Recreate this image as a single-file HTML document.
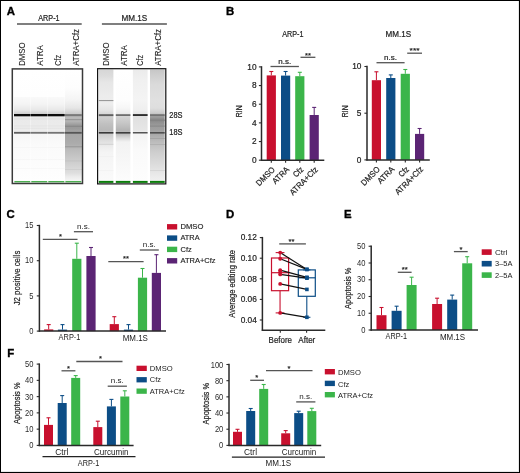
<!DOCTYPE html>
<html><head><meta charset="utf-8"><style>html,body{margin:0;padding:0;background:#fff;width:520px;height:473px;overflow:hidden}svg{display:block;will-change:transform}text{font-family:"Liberation Sans",sans-serif}</style></head><body>
<svg width="520" height="473" viewBox="0 0 520 473" font-family="Liberation Sans, sans-serif">
<rect x="0" y="0" width="520" height="473" fill="#fff"/>
<rect x="0" y="0" width="520" height="1" fill="#000"/><rect x="0" y="472" width="520" height="1" fill="#000"/><rect x="0" y="0" width="1" height="473" fill="#000"/><rect x="519" y="0" width="1" height="473" fill="#000"/>
<rect x="518" y="1" width="1" height="471" fill="#e8e8e8"/><rect x="1" y="471" width="518" height="1" fill="#e8e8e8"/>
<text x="6.7" y="15.1" font-size="11.4" font-weight="bold" fill="#000" stroke="#000" stroke-width="0.35">A</text>
<text x="225.9" y="15.3" font-size="11.4" font-weight="bold" fill="#000" stroke="#000" stroke-width="0.35">B</text>
<text x="6.5" y="217.7" font-size="11.4" font-weight="bold" fill="#000" stroke="#000" stroke-width="0.35">C</text>
<text x="225.9" y="217.6" font-size="11.4" font-weight="bold" fill="#000" stroke="#000" stroke-width="0.35">D</text>
<text x="343.9" y="217.6" font-size="11.4" font-weight="bold" fill="#000" stroke="#000" stroke-width="0.35">E</text>
<text x="7.3" y="356.5" font-size="11.4" font-weight="bold" fill="#000" stroke="#000" stroke-width="0.35">F</text>
<text x="38.3" y="21.2" font-size="8.3" textLength="21.3" lengthAdjust="spacingAndGlyphs" fill="#222" stroke="#222" stroke-width="0.2">ARP-1</text>
<text x="121.5" y="21.2" font-size="8.3" textLength="25.8" lengthAdjust="spacingAndGlyphs" fill="#222" stroke="#222" stroke-width="0.2">MM.1S</text>
<line x1="17" y1="24" x2="81.7" y2="24" stroke="#555" stroke-width="1.5"/>
<line x1="101.9" y1="24" x2="166.9" y2="24" stroke="#555" stroke-width="1.5"/>
<text x="25.4" y="65.8" font-size="8.4" fill="#222" stroke="#222" stroke-width="0.1" transform="rotate(-90 25.4 65.8)" textLength="23.4" lengthAdjust="spacingAndGlyphs">DMSO</text>
<text x="42.8" y="65.8" font-size="8.4" fill="#222" stroke="#222" stroke-width="0.1" transform="rotate(-90 42.8 65.8)" textLength="20.6" lengthAdjust="spacingAndGlyphs">ATRA</text>
<text x="60.9" y="65.8" font-size="8.4" fill="#222" stroke="#222" stroke-width="0.1" transform="rotate(-90 60.9 65.8)" textLength="10.8" lengthAdjust="spacingAndGlyphs">Cfz</text>
<text x="78.7" y="65.8" font-size="8.4" fill="#222" stroke="#222" stroke-width="0.1" transform="rotate(-90 78.7 65.8)" textLength="36.8" lengthAdjust="spacingAndGlyphs">ATRA+Cfz</text>
<text x="109.3" y="65.8" font-size="8.4" fill="#222" stroke="#222" stroke-width="0.1" transform="rotate(-90 109.3 65.8)" textLength="23.4" lengthAdjust="spacingAndGlyphs">DMSO</text>
<text x="126.6" y="65.8" font-size="8.4" fill="#222" stroke="#222" stroke-width="0.1" transform="rotate(-90 126.6 65.8)" textLength="20.6" lengthAdjust="spacingAndGlyphs">ATRA</text>
<text x="143.0" y="65.8" font-size="8.4" fill="#222" stroke="#222" stroke-width="0.1" transform="rotate(-90 143.0 65.8)" textLength="10.8" lengthAdjust="spacingAndGlyphs">Cfz</text>
<text x="161.3" y="65.8" font-size="8.4" fill="#222" stroke="#222" stroke-width="0.1" transform="rotate(-90 161.3 65.8)" textLength="36.8" lengthAdjust="spacingAndGlyphs">ATRA+Cfz</text>
<defs><linearGradient id="g1" gradientUnits="userSpaceOnUse" x1="0" y1="69.5" x2="0" y2="181"><stop offset="0.0000" stop-color="#ffffff"/><stop offset="0.2422" stop-color="#fefefe"/><stop offset="0.2466" stop-color="#f9f9f9"/><stop offset="0.3094" stop-color="#f4f4f4"/><stop offset="0.3632" stop-color="#e8e8e8"/><stop offset="0.3955" stop-color="#d0d0d0"/><stop offset="0.4215" stop-color="#eaeaea"/><stop offset="0.5516" stop-color="#ececec"/><stop offset="0.5785" stop-color="#f6f6f6"/><stop offset="0.6771" stop-color="#fafafa"/><stop offset="1.0000" stop-color="#fefefe"/></linearGradient><linearGradient id="g2" gradientUnits="userSpaceOnUse" x1="0" y1="69.5" x2="0" y2="181"><stop offset="0.0000" stop-color="#ffffff"/><stop offset="0.2422" stop-color="#fefefe"/><stop offset="0.2466" stop-color="#f9f9f9"/><stop offset="0.3094" stop-color="#f4f4f4"/><stop offset="0.3632" stop-color="#e8e8e8"/><stop offset="0.3955" stop-color="#d0d0d0"/><stop offset="0.4215" stop-color="#eaeaea"/><stop offset="0.5516" stop-color="#ececec"/><stop offset="0.5785" stop-color="#f6f6f6"/><stop offset="0.6771" stop-color="#fafafa"/><stop offset="1.0000" stop-color="#fefefe"/></linearGradient><linearGradient id="g3" gradientUnits="userSpaceOnUse" x1="0" y1="69.5" x2="0" y2="181"><stop offset="0.0000" stop-color="#ffffff"/><stop offset="0.2422" stop-color="#fefefe"/><stop offset="0.2466" stop-color="#f9f9f9"/><stop offset="0.3094" stop-color="#f4f4f4"/><stop offset="0.3632" stop-color="#e8e8e8"/><stop offset="0.3955" stop-color="#d0d0d0"/><stop offset="0.4215" stop-color="#eaeaea"/><stop offset="0.5516" stop-color="#ececec"/><stop offset="0.5785" stop-color="#f6f6f6"/><stop offset="0.6771" stop-color="#fafafa"/><stop offset="1.0000" stop-color="#fefefe"/></linearGradient><linearGradient id="g4" gradientUnits="userSpaceOnUse" x1="0" y1="69.5" x2="0" y2="181"><stop offset="0.0000" stop-color="#ffffff"/><stop offset="0.1659" stop-color="#fdfdfd"/><stop offset="0.2735" stop-color="#f4f4f4"/><stop offset="0.3453" stop-color="#e6e6e6"/><stop offset="0.3946" stop-color="#cccccc"/><stop offset="0.4215" stop-color="#bcbcbc"/><stop offset="0.4395" stop-color="#b8b8b8"/><stop offset="0.4664" stop-color="#b2b2b2"/><stop offset="0.4933" stop-color="#9e9e9e"/><stop offset="0.5247" stop-color="#999999"/><stop offset="0.5516" stop-color="#a2a2a2"/><stop offset="0.5830" stop-color="#a6a6a6"/><stop offset="0.6682" stop-color="#acacac"/><stop offset="0.7220" stop-color="#bcbcbc"/><stop offset="0.7937" stop-color="#c8c8c8"/><stop offset="0.8655" stop-color="#d4d4d4"/><stop offset="0.9283" stop-color="#dedede"/><stop offset="0.9641" stop-color="#ececec"/><stop offset="1.0000" stop-color="#f6f6f6"/></linearGradient><linearGradient id="g5" gradientUnits="userSpaceOnUse" x1="0" y1="69.5" x2="0" y2="181"><stop offset="0.0000" stop-color="#d6d6d6"/><stop offset="0.0583" stop-color="#dcdcdc"/><stop offset="0.1121" stop-color="#e6e6e6"/><stop offset="0.2377" stop-color="#ececec"/><stop offset="0.3094" stop-color="#ededed"/><stop offset="0.3632" stop-color="#e4e4e4"/><stop offset="0.3946" stop-color="#d8d8d8"/><stop offset="0.4215" stop-color="#d0d0d0"/><stop offset="0.4888" stop-color="#c0c0c0"/><stop offset="0.5426" stop-color="#b8b8b8"/><stop offset="0.5785" stop-color="#cccccc"/><stop offset="0.6323" stop-color="#dcdcdc"/><stop offset="0.6861" stop-color="#ececec"/><stop offset="0.7399" stop-color="#f4f4f4"/><stop offset="1.0000" stop-color="#fafafa"/></linearGradient><linearGradient id="g6" gradientUnits="userSpaceOnUse" x1="0" y1="69.5" x2="0" y2="181"><stop offset="0.0000" stop-color="#ffffff"/><stop offset="0.2735" stop-color="#fdfdfd"/><stop offset="0.3453" stop-color="#f6f6f6"/><stop offset="0.3901" stop-color="#ececec"/><stop offset="0.4215" stop-color="#d4d4d4"/><stop offset="0.4888" stop-color="#c4c4c4"/><stop offset="0.5426" stop-color="#b4b4b4"/><stop offset="0.5785" stop-color="#bcbcbc"/><stop offset="0.6143" stop-color="#dadada"/><stop offset="0.6502" stop-color="#f2f2f2"/><stop offset="1.0000" stop-color="#fcfcfc"/></linearGradient><linearGradient id="g7" gradientUnits="userSpaceOnUse" x1="0" y1="69.5" x2="0" y2="181"><stop offset="0.0000" stop-color="#ebebeb"/><stop offset="0.0942" stop-color="#f0f0f0"/><stop offset="0.2735" stop-color="#f4f4f4"/><stop offset="0.3632" stop-color="#efefef"/><stop offset="0.3946" stop-color="#e6e6e6"/><stop offset="0.4215" stop-color="#e0e0e0"/><stop offset="0.5426" stop-color="#e6e6e6"/><stop offset="0.5785" stop-color="#f4f4f4"/><stop offset="0.7220" stop-color="#fafafa"/><stop offset="1.0000" stop-color="#fdfdfd"/></linearGradient><linearGradient id="g8" gradientUnits="userSpaceOnUse" x1="0" y1="69.5" x2="0" y2="181"><stop offset="0.0000" stop-color="#c6c6c6"/><stop offset="0.0493" stop-color="#cecece"/><stop offset="0.1300" stop-color="#dadada"/><stop offset="0.2735" stop-color="#e0e0e0"/><stop offset="0.3453" stop-color="#dedede"/><stop offset="0.3901" stop-color="#cccccc"/><stop offset="0.4215" stop-color="#a0a0a0"/><stop offset="0.4439" stop-color="#8c8c8c"/><stop offset="0.4709" stop-color="#909090"/><stop offset="0.5067" stop-color="#9c9c9c"/><stop offset="0.5426" stop-color="#a0a0a0"/><stop offset="0.5785" stop-color="#a8a8a8"/><stop offset="0.6502" stop-color="#bcbcbc"/><stop offset="0.7399" stop-color="#cecece"/><stop offset="0.8565" stop-color="#dddddd"/><stop offset="0.9552" stop-color="#ebebeb"/><stop offset="1.0000" stop-color="#f0f0f0"/></linearGradient></defs>
<rect x="12.2" y="68.9" width="70.2" height="114.6" fill="#fff"/>
<rect x="98.0" y="68.9" width="67.4" height="114.6" fill="#fff"/>
<rect x="14.0" y="69.5" width="16.6" height="111.5" fill="url(#g1)"/>
<rect x="14.0" y="114.0" width="16.6" height="2.3" fill="#0c0c0c"/>
<rect x="14.0" y="118.4" width="16.6" height="1" fill="#e2e2e2"/>
<rect x="14.0" y="125.4" width="16.6" height="1" fill="#e4e4e4"/>
<rect x="14.0" y="127.8" width="16.6" height="1" fill="#e4e4e4"/>
<rect x="14.0" y="131.9" width="16.6" height="1.8" fill="#5e5e5e"/>
<rect x="14.0" y="147" width="16.6" height="0.8" fill="#f5f5f5"/>
<rect x="14.0" y="159" width="16.6" height="0.8" fill="#f6f6f6"/>
<rect x="14.0" y="168" width="16.6" height="0.8" fill="#f7f7f7"/>
<rect x="30.9" y="69.5" width="16.7" height="111.5" fill="url(#g2)"/>
<rect x="30.9" y="114.0" width="16.7" height="2.3" fill="#0c0c0c"/>
<rect x="30.9" y="118.4" width="16.7" height="1" fill="#e2e2e2"/>
<rect x="30.9" y="125.4" width="16.7" height="1" fill="#e4e4e4"/>
<rect x="30.9" y="127.8" width="16.7" height="1" fill="#e4e4e4"/>
<rect x="30.9" y="131.9" width="16.7" height="1.8" fill="#747474"/>
<rect x="30.9" y="147" width="16.7" height="0.8" fill="#f5f5f5"/>
<rect x="30.9" y="159" width="16.7" height="0.8" fill="#f6f6f6"/>
<rect x="30.9" y="168" width="16.7" height="0.8" fill="#f7f7f7"/>
<rect x="47.9" y="69.5" width="16.8" height="111.5" fill="url(#g3)"/>
<rect x="47.9" y="114.0" width="16.8" height="2.3" fill="#0c0c0c"/>
<rect x="47.9" y="118.4" width="16.8" height="1" fill="#e2e2e2"/>
<rect x="47.9" y="125.4" width="16.8" height="1" fill="#e4e4e4"/>
<rect x="47.9" y="127.8" width="16.8" height="1" fill="#e4e4e4"/>
<rect x="47.9" y="131.9" width="16.8" height="1.8" fill="#747474"/>
<rect x="47.9" y="147" width="16.8" height="0.8" fill="#f5f5f5"/>
<rect x="47.9" y="159" width="16.8" height="0.8" fill="#f6f6f6"/>
<rect x="47.9" y="168" width="16.8" height="0.8" fill="#f7f7f7"/>
<rect x="65.0" y="69.5" width="16.7" height="111.5" fill="url(#g4)"/>
<rect x="65.0" y="114.1" width="16.7" height="2.1" fill="#7a7a7a"/>
<rect x="65.0" y="119.0" width="16.7" height="1.2" fill="#989898"/>
<rect x="65.0" y="125.6" width="16.7" height="1.4" fill="#8a8a8a"/>
<rect x="65.0" y="131.9" width="16.7" height="1.8" fill="#565656"/>
<rect x="65.0" y="146.2" width="16.7" height="1.1" fill="#9a9a9a"/>
<rect x="65.0" y="160.5" width="16.7" height="0.9" fill="#c2c2c2"/>
<rect x="65.0" y="169" width="16.7" height="0.9" fill="#cecece"/>
<rect x="98.8" y="69.5" width="14.6" height="111.5" fill="url(#g5)"/>
<rect x="98.8" y="100.0" width="14.6" height="1.1" fill="#9a9a9a"/>
<rect x="98.8" y="114.2" width="14.6" height="1.9" fill="#606060"/>
<rect x="98.8" y="132.0" width="14.6" height="1.6" fill="#3a3a3a"/>
<rect x="98.8" y="143.8" width="14.6" height="1" fill="#d2d2d2"/>
<rect x="98.8" y="156" width="14.6" height="0.8" fill="#f0f0f0"/>
<rect x="98.8" y="170" width="14.6" height="0.8" fill="#f2f2f2"/>
<rect x="115.8" y="69.5" width="14.6" height="111.5" fill="url(#g6)"/>
<rect x="115.8" y="114.2" width="14.6" height="1.8" fill="#6e6e6e"/>
<rect x="115.8" y="132.0" width="14.6" height="1.6" fill="#3e3e3e"/>
<rect x="132.9" y="69.5" width="14.7" height="111.5" fill="url(#g7)"/>
<rect x="132.9" y="114.1" width="14.7" height="1.9" fill="#2e2e2e"/>
<rect x="132.9" y="132.0" width="14.7" height="1.5" fill="#555555"/>
<rect x="150.0" y="69.5" width="14.7" height="111.5" fill="url(#g8)"/>
<rect x="150.0" y="114.2" width="14.7" height="1.9" fill="#747474"/>
<rect x="150.0" y="119.5" width="14.7" height="1.6" fill="#848484"/>
<rect x="150.0" y="125.5" width="14.7" height="1.2" fill="#8a8a8a"/>
<rect x="150.0" y="132.0" width="14.7" height="1.6" fill="#505050"/>
<rect x="150.0" y="138" width="14.7" height="1" fill="#a4a4a4"/>
<rect x="150.0" y="144" width="14.7" height="1" fill="#b2b2b2"/>
<rect x="150.0" y="170" width="14.7" height="1" fill="#d6d6d6"/>
<rect x="14.4" y="181.0" width="15.8" height="1.4" fill="#4caf50"/>
<rect x="31.299999999999997" y="181.0" width="15.899999999999999" height="1.4" fill="#4caf50"/>
<rect x="48.3" y="181.0" width="16.0" height="1.4" fill="#4caf50"/>
<rect x="65.4" y="181.0" width="15.899999999999999" height="1.4" fill="#4caf50"/>
<rect x="98.8" y="180.9" width="14.6" height="2.0" fill="#0b7d0b"/>
<rect x="115.8" y="180.9" width="14.6" height="2.0" fill="#0b7d0b"/>
<rect x="132.9" y="180.9" width="14.7" height="2.0" fill="#0b7d0b"/>
<rect x="150.0" y="180.9" width="14.7" height="2.0" fill="#0b7d0b"/>
<rect x="12.3" y="68.9" width="70.2" height="114.6" fill="none" stroke="#3a3a3a" stroke-width="1.5"/>
<rect x="97.6" y="68.7" width="68.2" height="115.2" fill="none" stroke="#111" stroke-width="1.2"/>
<text x="169.3" y="117.6" font-size="8.3" textLength="13.2" lengthAdjust="spacingAndGlyphs" fill="#222" stroke="#222" stroke-width="0.2">28S</text>
<text x="169.3" y="134.8" font-size="8.3" textLength="13.2" lengthAdjust="spacingAndGlyphs" fill="#222" stroke="#222" stroke-width="0.2">18S</text>
<text x="282.2" y="37" font-size="8.3" textLength="21.2" lengthAdjust="spacingAndGlyphs" fill="#222" stroke="#222" stroke-width="0.2">ARP-1</text>
<text x="385.6" y="37" font-size="8.3" textLength="25.6" lengthAdjust="spacingAndGlyphs" fill="#222" stroke="#222" stroke-width="0.2">MM.1S</text>
<line x1="261.5" y1="66.19999999999999" x2="261.5" y2="160.89999999999998" stroke="#2a2a2a" stroke-width="1.5"/>
<line x1="258.9" y1="160.2" x2="261.5" y2="160.2" stroke="#2a2a2a" stroke-width="1.1"/>
<text x="256.6" y="162.89999999999998" font-size="8.3" text-anchor="end" fill="#222" stroke="#222" stroke-width="0.2">0</text>
<line x1="258.9" y1="141.54" x2="261.5" y2="141.54" stroke="#2a2a2a" stroke-width="1.1"/>
<text x="256.6" y="144.23999999999998" font-size="8.3" text-anchor="end" fill="#222" stroke="#222" stroke-width="0.2">2</text>
<line x1="258.9" y1="122.88" x2="261.5" y2="122.88" stroke="#2a2a2a" stroke-width="1.1"/>
<text x="256.6" y="125.58" font-size="8.3" text-anchor="end" fill="#222" stroke="#222" stroke-width="0.2">4</text>
<line x1="258.9" y1="104.21999999999998" x2="261.5" y2="104.21999999999998" stroke="#2a2a2a" stroke-width="1.1"/>
<text x="256.6" y="106.91999999999999" font-size="8.3" text-anchor="end" fill="#222" stroke="#222" stroke-width="0.2">6</text>
<line x1="258.9" y1="85.55999999999999" x2="261.5" y2="85.55999999999999" stroke="#2a2a2a" stroke-width="1.1"/>
<text x="256.6" y="88.25999999999999" font-size="8.3" text-anchor="end" fill="#222" stroke="#222" stroke-width="0.2">8</text>
<line x1="258.9" y1="66.89999999999999" x2="261.5" y2="66.89999999999999" stroke="#2a2a2a" stroke-width="1.1"/>
<text x="256.6" y="69.6" font-size="8.3" text-anchor="end" fill="#222" stroke="#222" stroke-width="0.2">10</text>
<rect x="266.7" y="75.4" width="9.2" height="84.79999999999998" fill="#c8102e"/>
<line x1="271.3" y1="75.4" x2="271.3" y2="71.5" stroke="#c8102e" stroke-width="1.0"/>
<line x1="269.3" y1="71.5" x2="273.3" y2="71.5" stroke="#c8102e" stroke-width="1.1"/>
<rect x="281.0" y="75.6" width="9.2" height="84.6" fill="#0c4d86"/>
<line x1="285.6" y1="75.6" x2="285.6" y2="71.5" stroke="#0c4d86" stroke-width="1.0"/>
<line x1="283.6" y1="71.5" x2="287.6" y2="71.5" stroke="#0c4d86" stroke-width="1.1"/>
<rect x="295.2" y="76.2" width="9.2" height="83.99999999999999" fill="#3bb54a"/>
<line x1="299.8" y1="76.2" x2="299.8" y2="72.3" stroke="#3bb54a" stroke-width="1.0"/>
<line x1="297.8" y1="72.3" x2="301.8" y2="72.3" stroke="#3bb54a" stroke-width="1.1"/>
<rect x="309.59999999999997" y="115.0" width="9.2" height="45.19999999999999" fill="#5b2474"/>
<line x1="314.2" y1="115.0" x2="314.2" y2="107.4" stroke="#5b2474" stroke-width="1.0"/>
<line x1="312.2" y1="107.4" x2="316.2" y2="107.4" stroke="#5b2474" stroke-width="1.1"/>
<line x1="260.9" y1="160.2" x2="324.3" y2="160.2" stroke="#2a2a2a" stroke-width="1.5"/>
<line x1="271.3" y1="160.2" x2="271.3" y2="162.79999999999998" stroke="#2a2a2a" stroke-width="1.1"/>
<line x1="285.6" y1="160.2" x2="285.6" y2="162.79999999999998" stroke="#2a2a2a" stroke-width="1.1"/>
<line x1="299.8" y1="160.2" x2="299.8" y2="162.79999999999998" stroke="#2a2a2a" stroke-width="1.1"/>
<line x1="314.2" y1="160.2" x2="314.2" y2="162.79999999999998" stroke="#2a2a2a" stroke-width="1.1"/>
<text x="242.3" y="111.3" font-size="8.8" text-anchor="middle" fill="#222" stroke="#222" stroke-width="0.2" transform="rotate(-90 242.3 111.3)" textLength="11.8" lengthAdjust="spacingAndGlyphs">RIN</text>
<line x1="270.5" y1="66.5" x2="298.9" y2="66.5" stroke="#555" stroke-width="1.3"/>
<text x="284.7" y="63.6" font-size="8.0" text-anchor="middle" fill="#222" stroke="#222" stroke-width="0.2">n.s.</text>
<line x1="300.5" y1="57.3" x2="315.4" y2="57.3" stroke="#555" stroke-width="1.3"/>
<text x="307.95" y="57.99999999999999" font-size="7.6" text-anchor="middle" fill="#222" stroke="#222" stroke-width="0.2">**</text>
<line x1="367" y1="65.8" x2="367" y2="160.6" stroke="#2a2a2a" stroke-width="1.5"/>
<line x1="364.4" y1="159.9" x2="367" y2="159.9" stroke="#2a2a2a" stroke-width="1.1"/>
<text x="361.4" y="162.6" font-size="8.3" text-anchor="end" fill="#222" stroke="#222" stroke-width="0.2">0</text>
<line x1="364.4" y1="113.2" x2="367" y2="113.2" stroke="#2a2a2a" stroke-width="1.1"/>
<text x="361.4" y="115.9" font-size="8.3" text-anchor="end" fill="#222" stroke="#222" stroke-width="0.2">5</text>
<line x1="364.4" y1="66.5" x2="367" y2="66.5" stroke="#2a2a2a" stroke-width="1.1"/>
<text x="361.4" y="69.2" font-size="8.3" text-anchor="end" fill="#222" stroke="#222" stroke-width="0.2">10</text>
<rect x="371.79999999999995" y="80.2" width="9.2" height="79.7" fill="#c8102e"/>
<line x1="376.4" y1="80.2" x2="376.4" y2="71.8" stroke="#c8102e" stroke-width="1.0"/>
<line x1="374.4" y1="71.8" x2="378.4" y2="71.8" stroke="#c8102e" stroke-width="1.1"/>
<rect x="386.2" y="78.0" width="9.2" height="81.9" fill="#0c4d86"/>
<line x1="390.8" y1="78.0" x2="390.8" y2="74.9" stroke="#0c4d86" stroke-width="1.0"/>
<line x1="388.8" y1="74.9" x2="392.8" y2="74.9" stroke="#0c4d86" stroke-width="1.1"/>
<rect x="400.7" y="73.8" width="9.2" height="86.10000000000001" fill="#3bb54a"/>
<line x1="405.3" y1="73.8" x2="405.3" y2="69.5" stroke="#3bb54a" stroke-width="1.0"/>
<line x1="403.3" y1="69.5" x2="407.3" y2="69.5" stroke="#3bb54a" stroke-width="1.1"/>
<rect x="415.0" y="133.9" width="9.2" height="26.0" fill="#5b2474"/>
<line x1="419.6" y1="133.9" x2="419.6" y2="128.5" stroke="#5b2474" stroke-width="1.0"/>
<line x1="417.6" y1="128.5" x2="421.6" y2="128.5" stroke="#5b2474" stroke-width="1.1"/>
<line x1="366.4" y1="159.9" x2="429.8" y2="159.9" stroke="#2a2a2a" stroke-width="1.5"/>
<line x1="376.4" y1="159.9" x2="376.4" y2="162.5" stroke="#2a2a2a" stroke-width="1.1"/>
<line x1="390.8" y1="159.9" x2="390.8" y2="162.5" stroke="#2a2a2a" stroke-width="1.1"/>
<line x1="405.3" y1="159.9" x2="405.3" y2="162.5" stroke="#2a2a2a" stroke-width="1.1"/>
<line x1="419.6" y1="159.9" x2="419.6" y2="162.5" stroke="#2a2a2a" stroke-width="1.1"/>
<text x="347.6" y="111.3" font-size="8.8" text-anchor="middle" fill="#222" stroke="#222" stroke-width="0.2" transform="rotate(-90 347.6 111.3)" textLength="11.8" lengthAdjust="spacingAndGlyphs">RIN</text>
<line x1="376.5" y1="62.7" x2="404.6" y2="62.7" stroke="#555" stroke-width="1.3"/>
<text x="390.55" y="59.800000000000004" font-size="8.0" text-anchor="middle" fill="#222" stroke="#222" stroke-width="0.2">n.s.</text>
<line x1="407.2" y1="53.2" x2="422" y2="53.2" stroke="#555" stroke-width="1.3"/>
<text x="414.6" y="53.4" font-size="7.6" text-anchor="middle" textLength="10" lengthAdjust="spacingAndGlyphs" fill="#222" stroke="#222" stroke-width="0.2">***</text>
<text x="275.5" y="170.2" font-size="8.3" text-anchor="end" fill="#222" stroke="#222" stroke-width="0.2" transform="rotate(-45 275.5 170.2)" textLength="23.0" lengthAdjust="spacingAndGlyphs">DMSO</text>
<text x="289.8" y="170.2" font-size="8.3" text-anchor="end" fill="#222" stroke="#222" stroke-width="0.2" transform="rotate(-45 289.8 170.2)" textLength="20.2" lengthAdjust="spacingAndGlyphs">ATRA</text>
<text x="304.0" y="170.2" font-size="8.3" text-anchor="end" fill="#222" stroke="#222" stroke-width="0.2" transform="rotate(-45 304.0 170.2)" textLength="10.8" lengthAdjust="spacingAndGlyphs">Cfz</text>
<text x="318.4" y="170.2" font-size="8.3" text-anchor="end" fill="#222" stroke="#222" stroke-width="0.2" transform="rotate(-45 318.4 170.2)" textLength="36.0" lengthAdjust="spacingAndGlyphs">ATRA+Cfz</text>
<text x="380.59999999999997" y="169.9" font-size="8.3" text-anchor="end" fill="#222" stroke="#222" stroke-width="0.2" transform="rotate(-45 380.59999999999997 169.9)" textLength="23.0" lengthAdjust="spacingAndGlyphs">DMSO</text>
<text x="395.0" y="169.9" font-size="8.3" text-anchor="end" fill="#222" stroke="#222" stroke-width="0.2" transform="rotate(-45 395.0 169.9)" textLength="20.2" lengthAdjust="spacingAndGlyphs">ATRA</text>
<text x="409.5" y="169.9" font-size="8.3" text-anchor="end" fill="#222" stroke="#222" stroke-width="0.2" transform="rotate(-45 409.5 169.9)" textLength="10.8" lengthAdjust="spacingAndGlyphs">Cfz</text>
<text x="423.8" y="169.9" font-size="8.3" text-anchor="end" fill="#222" stroke="#222" stroke-width="0.2" transform="rotate(-45 423.8 169.9)" textLength="36.0" lengthAdjust="spacingAndGlyphs">ATRA+Cfz</text>
<line x1="39.4" y1="224.80000000000004" x2="39.4" y2="331.8" stroke="#2a2a2a" stroke-width="1.5"/>
<line x1="36.8" y1="331.1" x2="39.4" y2="331.1" stroke="#2a2a2a" stroke-width="1.1"/>
<text x="33.4" y="333.8" font-size="8.3" text-anchor="end" fill="#2a2a2a" textLength="4.2" lengthAdjust="spacingAndGlyphs">0</text>
<line x1="36.8" y1="295.90000000000003" x2="39.4" y2="295.90000000000003" stroke="#2a2a2a" stroke-width="1.1"/>
<text x="33.4" y="298.6" font-size="8.3" text-anchor="end" fill="#2a2a2a" textLength="4.2" lengthAdjust="spacingAndGlyphs">5</text>
<line x1="36.8" y1="260.70000000000005" x2="39.4" y2="260.70000000000005" stroke="#2a2a2a" stroke-width="1.1"/>
<text x="33.4" y="263.40000000000003" font-size="8.3" text-anchor="end" fill="#2a2a2a" textLength="8.4" lengthAdjust="spacingAndGlyphs">10</text>
<line x1="36.8" y1="225.50000000000003" x2="39.4" y2="225.50000000000003" stroke="#2a2a2a" stroke-width="1.1"/>
<text x="33.4" y="228.20000000000002" font-size="8.3" text-anchor="end" fill="#2a2a2a" textLength="8.4" lengthAdjust="spacingAndGlyphs">15</text>
<rect x="44.1" y="329.4" width="9.2" height="1.7000000000000455" fill="#c8102e"/>
<line x1="48.7" y1="329.4" x2="48.7" y2="324.6" stroke="#c8102e" stroke-width="1.0"/>
<line x1="46.7" y1="324.6" x2="50.7" y2="324.6" stroke="#c8102e" stroke-width="1.1"/>
<rect x="57.9" y="329.6" width="9.2" height="1.5" fill="#0c4d86"/>
<line x1="62.5" y1="329.6" x2="62.5" y2="324.6" stroke="#0c4d86" stroke-width="1.0"/>
<line x1="60.5" y1="324.6" x2="64.5" y2="324.6" stroke="#0c4d86" stroke-width="1.1"/>
<rect x="72.2" y="258.8" width="9.2" height="72.30000000000001" fill="#3bb54a"/>
<line x1="76.8" y1="258.8" x2="76.8" y2="243.2" stroke="#3bb54a" stroke-width="1.0"/>
<line x1="74.8" y1="243.2" x2="78.8" y2="243.2" stroke="#3bb54a" stroke-width="1.1"/>
<rect x="86.4" y="256.0" width="9.2" height="75.10000000000002" fill="#5b2474"/>
<line x1="91.0" y1="256.0" x2="91.0" y2="247.5" stroke="#5b2474" stroke-width="1.0"/>
<line x1="89.0" y1="247.5" x2="93.0" y2="247.5" stroke="#5b2474" stroke-width="1.1"/>
<rect x="109.7" y="324.1" width="9.2" height="7.0" fill="#c8102e"/>
<line x1="114.3" y1="324.1" x2="114.3" y2="316.7" stroke="#c8102e" stroke-width="1.0"/>
<line x1="112.3" y1="316.7" x2="116.3" y2="316.7" stroke="#c8102e" stroke-width="1.1"/>
<rect x="123.9" y="329.6" width="9.2" height="1.5" fill="#0c4d86"/>
<line x1="128.5" y1="329.6" x2="128.5" y2="324.6" stroke="#0c4d86" stroke-width="1.0"/>
<line x1="126.5" y1="324.6" x2="130.5" y2="324.6" stroke="#0c4d86" stroke-width="1.1"/>
<rect x="137.9" y="277.7" width="9.2" height="53.400000000000034" fill="#3bb54a"/>
<line x1="142.5" y1="277.7" x2="142.5" y2="268.5" stroke="#3bb54a" stroke-width="1.0"/>
<line x1="140.5" y1="268.5" x2="144.5" y2="268.5" stroke="#3bb54a" stroke-width="1.1"/>
<rect x="151.8" y="272.9" width="9.2" height="58.200000000000045" fill="#5b2474"/>
<line x1="156.4" y1="272.9" x2="156.4" y2="254.7" stroke="#5b2474" stroke-width="1.0"/>
<line x1="154.4" y1="254.7" x2="158.4" y2="254.7" stroke="#5b2474" stroke-width="1.1"/>
<line x1="38.8" y1="331.1" x2="166" y2="331.1" stroke="#2a2a2a" stroke-width="1.5"/>
<text x="19.9" y="278.0" font-size="9.4" text-anchor="middle" fill="#222" stroke="#222" stroke-width="0.2" transform="rotate(-90 19.9 278.0)" textLength="54.6" lengthAdjust="spacingAndGlyphs">J2 positive cells</text>
<text x="58.6" y="340.4" font-size="8.3" textLength="21.8" lengthAdjust="spacingAndGlyphs" fill="#222">ARP-1</text>
<text x="122.7" y="340.6" font-size="8.3" textLength="25.2" lengthAdjust="spacingAndGlyphs" fill="#222">MM.1S</text>
<line x1="42.8" y1="239.4" x2="77.5" y2="239.4" stroke="#555" stroke-width="1.3"/>
<text x="60.4" y="238.5" font-size="7.6" text-anchor="middle" fill="#222" stroke="#222" stroke-width="0.2">*</text>
<line x1="73.9" y1="231.7" x2="93" y2="231.7" stroke="#555" stroke-width="1.3"/>
<text x="83.45" y="228.79999999999998" font-size="8.0" text-anchor="middle" fill="#222">n.s.</text>
<line x1="108.3" y1="261.6" x2="143.6" y2="261.6" stroke="#555" stroke-width="1.3"/>
<text x="126" y="260.7" font-size="7.6" text-anchor="middle" fill="#222" stroke="#222" stroke-width="0.2">**</text>
<line x1="139.8" y1="250" x2="158.8" y2="250" stroke="#555" stroke-width="1.3"/>
<text x="149.3" y="247.1" font-size="8.0" text-anchor="middle" fill="#222">n.s.</text>
<rect x="167" y="224.1" width="10.2" height="5.4" fill="#c8102e"/>
<text x="180.5" y="229.1" font-size="7.9" fill="#222" stroke="#222" stroke-width="0.15" textLength="22.9" lengthAdjust="spacingAndGlyphs">DMSO</text>
<rect x="167" y="235.4" width="10.2" height="5.4" fill="#0c4d86"/>
<text x="180.5" y="240.4" font-size="7.9" fill="#222" stroke="#222" stroke-width="0.15" textLength="19.1" lengthAdjust="spacingAndGlyphs">ATRA</text>
<rect x="167" y="246.7" width="10.2" height="5.4" fill="#3bb54a"/>
<text x="180.5" y="251.7" font-size="7.9" fill="#222" stroke="#222" stroke-width="0.15" textLength="11.2" lengthAdjust="spacingAndGlyphs">Cfz</text>
<rect x="167" y="258.1" width="10.2" height="5.4" fill="#5b2474"/>
<text x="180.5" y="263.1" font-size="7.9" fill="#222" stroke="#222" stroke-width="0.15" textLength="35.0" lengthAdjust="spacingAndGlyphs">ATRA+Cfz</text>
<line x1="262.4" y1="236.9" x2="262.4" y2="330.9" stroke="#2a2a2a" stroke-width="1.5"/>
<line x1="259.79999999999995" y1="320.0" x2="262.4" y2="320.0" stroke="#2a2a2a" stroke-width="1.1"/>
<text x="256.8" y="322.7" font-size="8.3" text-anchor="end" fill="#222" stroke="#222" stroke-width="0.2">0.04</text>
<line x1="259.79999999999995" y1="299.4" x2="262.4" y2="299.4" stroke="#2a2a2a" stroke-width="1.1"/>
<text x="256.8" y="302.09999999999997" font-size="8.3" text-anchor="end" fill="#222" stroke="#222" stroke-width="0.2">0.06</text>
<line x1="259.79999999999995" y1="278.8" x2="262.4" y2="278.8" stroke="#2a2a2a" stroke-width="1.1"/>
<text x="256.8" y="281.5" font-size="8.3" text-anchor="end" fill="#222" stroke="#222" stroke-width="0.2">0.08</text>
<line x1="259.79999999999995" y1="258.2" x2="262.4" y2="258.2" stroke="#2a2a2a" stroke-width="1.1"/>
<text x="256.8" y="260.9" font-size="8.3" text-anchor="end" fill="#222" stroke="#222" stroke-width="0.2">0.10</text>
<line x1="259.79999999999995" y1="237.6" x2="262.4" y2="237.6" stroke="#2a2a2a" stroke-width="1.1"/>
<text x="256.8" y="240.29999999999998" font-size="8.3" text-anchor="end" fill="#222" stroke="#222" stroke-width="0.2">0.12</text>
<line x1="261.8" y1="330.2" x2="325.3" y2="330.2" stroke="#2a2a2a" stroke-width="1.5"/>
<line x1="280.3" y1="330.2" x2="280.3" y2="332.8" stroke="#2a2a2a" stroke-width="1.1"/>
<line x1="306.6" y1="330.2" x2="306.6" y2="332.8" stroke="#2a2a2a" stroke-width="1.1"/>
<text x="235.4" y="283.8" font-size="9.2" text-anchor="middle" fill="#222" stroke="#222" stroke-width="0.2" transform="rotate(-90 235.4 283.8)" textLength="67.8" lengthAdjust="spacingAndGlyphs">Average editing rate</text>
<text x="268.6" y="343.1" font-size="8.3" textLength="23.4" lengthAdjust="spacingAndGlyphs" fill="#222" stroke="#222" stroke-width="0.2">Before</text>
<text x="298.3" y="343.1" font-size="8.3" textLength="17" lengthAdjust="spacingAndGlyphs" fill="#222" stroke="#222" stroke-width="0.2">After</text>
<line x1="279.2" y1="243.9" x2="305.9" y2="243.9" stroke="#555" stroke-width="1.3"/>
<text x="291.4" y="243.5" font-size="7.6" text-anchor="middle" fill="#222" stroke="#222" stroke-width="0.2">**</text>
<rect x="271.5" y="258.0" width="17.100000000000023" height="32.69999999999999" fill="none" stroke="#c8102e" stroke-width="1.2"/>
<line x1="271.5" y1="272.7" x2="288.6" y2="272.7" stroke="#c8102e" stroke-width="1.2"/>
<line x1="280.05" y1="258.0" x2="280.05" y2="252.6" stroke="#c8102e" stroke-width="1.1"/>
<line x1="280.05" y1="290.7" x2="280.05" y2="312.9" stroke="#c8102e" stroke-width="1.1"/>
<line x1="275.65000000000003" y1="252.6" x2="284.45" y2="252.6" stroke="#c8102e" stroke-width="1.1"/>
<line x1="275.65000000000003" y1="312.9" x2="284.45" y2="312.9" stroke="#c8102e" stroke-width="1.1"/>
<rect x="298.3" y="269.9" width="17.0" height="26.400000000000034" fill="none" stroke="#0c4d86" stroke-width="1.2"/>
<line x1="298.3" y1="277.8" x2="315.3" y2="277.8" stroke="#0c4d86" stroke-width="1.2"/>
<line x1="306.8" y1="269.9" x2="306.8" y2="269.9" stroke="#0c4d86" stroke-width="1.1"/>
<line x1="306.8" y1="296.3" x2="306.8" y2="317.3" stroke="#0c4d86" stroke-width="1.1"/>
<line x1="303.2" y1="269.9" x2="310.40000000000003" y2="269.9" stroke="#0c4d86" stroke-width="1.1"/>
<line x1="303.2" y1="317.3" x2="310.40000000000003" y2="317.3" stroke="#0c4d86" stroke-width="1.1"/>
<line x1="280.2" y1="252.6" x2="306.9" y2="269.4" stroke="#111" stroke-width="1.2"/>
<line x1="280.2" y1="258.7" x2="306.9" y2="269.4" stroke="#111" stroke-width="1.2"/>
<line x1="280.2" y1="270.2" x2="306.9" y2="277.4" stroke="#111" stroke-width="1.2"/>
<line x1="280.2" y1="274.4" x2="306.9" y2="278.2" stroke="#111" stroke-width="1.2"/>
<line x1="280.2" y1="283.9" x2="306.9" y2="289.4" stroke="#111" stroke-width="1.2"/>
<line x1="280.2" y1="312.9" x2="306.9" y2="317.3" stroke="#111" stroke-width="1.2"/>
<circle cx="280.2" cy="252.6" r="1.95" fill="#c8102e"/>
<rect x="305.1" y="267.59999999999997" width="3.6" height="3.6" fill="#0c4d86"/>
<circle cx="280.2" cy="258.7" r="1.95" fill="#c8102e"/>
<rect x="305.1" y="267.59999999999997" width="3.6" height="3.6" fill="#0c4d86"/>
<circle cx="280.2" cy="270.2" r="1.95" fill="#c8102e"/>
<rect x="305.1" y="275.59999999999997" width="3.6" height="3.6" fill="#0c4d86"/>
<circle cx="280.2" cy="274.4" r="1.95" fill="#c8102e"/>
<rect x="305.1" y="276.4" width="3.6" height="3.6" fill="#0c4d86"/>
<circle cx="280.2" cy="283.9" r="1.95" fill="#c8102e"/>
<rect x="305.1" y="287.59999999999997" width="3.6" height="3.6" fill="#0c4d86"/>
<circle cx="280.2" cy="312.9" r="1.95" fill="#c8102e"/>
<rect x="305.1" y="315.5" width="3.6" height="3.6" fill="#0c4d86"/>
<circle cx="280.2" cy="272.3" r="1.95" fill="#c8102e"/>
<rect x="305.1" y="275.8" width="3.6" height="3.6" fill="#0c4d86"/>
<line x1="371.2" y1="245.55" x2="371.2" y2="330.7" stroke="#2a2a2a" stroke-width="1.5"/>
<line x1="368.59999999999997" y1="330.0" x2="371.2" y2="330.0" stroke="#2a2a2a" stroke-width="1.1"/>
<text x="365.4" y="332.7" font-size="8.3" text-anchor="end" fill="#2a2a2a" textLength="4.2" lengthAdjust="spacingAndGlyphs">0</text>
<line x1="368.59999999999997" y1="313.25" x2="371.2" y2="313.25" stroke="#2a2a2a" stroke-width="1.1"/>
<text x="365.4" y="315.95" font-size="8.3" text-anchor="end" fill="#2a2a2a" textLength="8.4" lengthAdjust="spacingAndGlyphs">10</text>
<line x1="368.59999999999997" y1="296.5" x2="371.2" y2="296.5" stroke="#2a2a2a" stroke-width="1.1"/>
<text x="365.4" y="299.2" font-size="8.3" text-anchor="end" fill="#2a2a2a" textLength="8.4" lengthAdjust="spacingAndGlyphs">20</text>
<line x1="368.59999999999997" y1="279.75" x2="371.2" y2="279.75" stroke="#2a2a2a" stroke-width="1.1"/>
<text x="365.4" y="282.45" font-size="8.3" text-anchor="end" fill="#2a2a2a" textLength="8.4" lengthAdjust="spacingAndGlyphs">30</text>
<line x1="368.59999999999997" y1="263.0" x2="371.2" y2="263.0" stroke="#2a2a2a" stroke-width="1.1"/>
<text x="365.4" y="265.7" font-size="8.3" text-anchor="end" fill="#2a2a2a" textLength="8.4" lengthAdjust="spacingAndGlyphs">40</text>
<line x1="368.59999999999997" y1="246.25" x2="371.2" y2="246.25" stroke="#2a2a2a" stroke-width="1.1"/>
<text x="365.4" y="248.95" font-size="8.3" text-anchor="end" fill="#2a2a2a" textLength="8.4" lengthAdjust="spacingAndGlyphs">50</text>
<rect x="376.5" y="315.2" width="10" height="14.800000000000011" fill="#c8102e"/>
<line x1="381.5" y1="315.2" x2="381.5" y2="307.5" stroke="#c8102e" stroke-width="1.0"/>
<line x1="379.5" y1="307.5" x2="383.5" y2="307.5" stroke="#c8102e" stroke-width="1.1"/>
<rect x="391.6" y="310.8" width="10" height="19.19999999999999" fill="#0c4d86"/>
<line x1="396.6" y1="310.8" x2="396.6" y2="306.2" stroke="#0c4d86" stroke-width="1.0"/>
<line x1="394.6" y1="306.2" x2="398.6" y2="306.2" stroke="#0c4d86" stroke-width="1.1"/>
<rect x="406.6" y="285.0" width="10" height="45.0" fill="#3bb54a"/>
<line x1="411.6" y1="285.0" x2="411.6" y2="277.2" stroke="#3bb54a" stroke-width="1.0"/>
<line x1="409.6" y1="277.2" x2="413.6" y2="277.2" stroke="#3bb54a" stroke-width="1.1"/>
<rect x="432.1" y="304.0" width="10" height="26.0" fill="#c8102e"/>
<line x1="437.1" y1="304.0" x2="437.1" y2="298.2" stroke="#c8102e" stroke-width="1.0"/>
<line x1="435.1" y1="298.2" x2="439.1" y2="298.2" stroke="#c8102e" stroke-width="1.1"/>
<rect x="447.2" y="299.6" width="10" height="30.399999999999977" fill="#0c4d86"/>
<line x1="452.2" y1="299.6" x2="452.2" y2="295.1" stroke="#0c4d86" stroke-width="1.0"/>
<line x1="450.2" y1="295.1" x2="454.2" y2="295.1" stroke="#0c4d86" stroke-width="1.1"/>
<rect x="462.2" y="263.3" width="10" height="66.69999999999999" fill="#3bb54a"/>
<line x1="467.2" y1="263.3" x2="467.2" y2="256.7" stroke="#3bb54a" stroke-width="1.0"/>
<line x1="465.2" y1="256.7" x2="469.2" y2="256.7" stroke="#3bb54a" stroke-width="1.1"/>
<line x1="370.6" y1="330.0" x2="478" y2="330.0" stroke="#2a2a2a" stroke-width="1.5"/>
<text x="351.2" y="288.2" font-size="9.3" text-anchor="middle" fill="#222" stroke="#222" stroke-width="0.2" transform="rotate(-90 351.2 288.2)" textLength="41.4" lengthAdjust="spacingAndGlyphs">Apoptosis %</text>
<text x="385.6" y="339.4" font-size="8.3" textLength="21.4" lengthAdjust="spacingAndGlyphs" fill="#222">ARP-1</text>
<text x="439.9" y="339.8" font-size="8.3" textLength="25.2" lengthAdjust="spacingAndGlyphs" fill="#222">MM.1S</text>
<line x1="397.8" y1="272.3" x2="411.6" y2="272.3" stroke="#555" stroke-width="1.3"/>
<text x="404.8" y="272.2" font-size="7.6" text-anchor="middle" fill="#222" stroke="#222" stroke-width="0.2">**</text>
<line x1="453.9" y1="251.6" x2="467.7" y2="251.6" stroke="#555" stroke-width="1.3"/>
<text x="461" y="251.5" font-size="7.6" text-anchor="middle" fill="#222" stroke="#222" stroke-width="0.2">*</text>
<rect x="481.7" y="249.3" width="10" height="5.6" fill="#c8102e"/>
<text x="495" y="254.8" font-size="7.9" fill="#222" stroke="#222" stroke-width="0" textLength="12.5" lengthAdjust="spacingAndGlyphs">Ctrl</text>
<rect x="481.7" y="260.9" width="10" height="5.6" fill="#0c4d86"/>
<text x="495" y="266.4" font-size="7.9" fill="#222" stroke="#222" stroke-width="0" textLength="17.4" lengthAdjust="spacingAndGlyphs">3–5A</text>
<rect x="481.7" y="272.3" width="10" height="5.6" fill="#3bb54a"/>
<text x="495" y="277.8" font-size="7.9" fill="#222" stroke="#222" stroke-width="0" textLength="17.4" lengthAdjust="spacingAndGlyphs">2–5A</text>
<line x1="39.3" y1="363.4" x2="39.3" y2="446.09999999999997" stroke="#2a2a2a" stroke-width="1.5"/>
<line x1="36.699999999999996" y1="445.4" x2="39.3" y2="445.4" stroke="#2a2a2a" stroke-width="1.1"/>
<text x="33.4" y="448.4" font-size="8.3" text-anchor="end" fill="#2a2a2a" textLength="4.2" lengthAdjust="spacingAndGlyphs">0</text>
<line x1="36.699999999999996" y1="429.14" x2="39.3" y2="429.14" stroke="#2a2a2a" stroke-width="1.1"/>
<text x="33.4" y="432.14" font-size="8.3" text-anchor="end" fill="#2a2a2a" textLength="8.4" lengthAdjust="spacingAndGlyphs">10</text>
<line x1="36.699999999999996" y1="412.88" x2="39.3" y2="412.88" stroke="#2a2a2a" stroke-width="1.1"/>
<text x="33.4" y="415.88" font-size="8.3" text-anchor="end" fill="#2a2a2a" textLength="8.4" lengthAdjust="spacingAndGlyphs">20</text>
<line x1="36.699999999999996" y1="396.62" x2="39.3" y2="396.62" stroke="#2a2a2a" stroke-width="1.1"/>
<text x="33.4" y="399.62" font-size="8.3" text-anchor="end" fill="#2a2a2a" textLength="8.4" lengthAdjust="spacingAndGlyphs">30</text>
<line x1="36.699999999999996" y1="380.36" x2="39.3" y2="380.36" stroke="#2a2a2a" stroke-width="1.1"/>
<text x="33.4" y="383.36" font-size="8.3" text-anchor="end" fill="#2a2a2a" textLength="8.4" lengthAdjust="spacingAndGlyphs">40</text>
<line x1="36.699999999999996" y1="364.09999999999997" x2="39.3" y2="364.09999999999997" stroke="#2a2a2a" stroke-width="1.1"/>
<text x="33.4" y="367.09999999999997" font-size="8.3" text-anchor="end" fill="#2a2a2a" textLength="8.4" lengthAdjust="spacingAndGlyphs">50</text>
<rect x="44.0" y="424.9" width="9" height="20.5" fill="#c8102e"/>
<line x1="48.5" y1="424.9" x2="48.5" y2="417.8" stroke="#c8102e" stroke-width="1.0"/>
<line x1="46.5" y1="417.8" x2="50.5" y2="417.8" stroke="#c8102e" stroke-width="1.1"/>
<rect x="57.7" y="403.0" width="9" height="42.39999999999998" fill="#0c4d86"/>
<line x1="62.2" y1="403.0" x2="62.2" y2="395.6" stroke="#0c4d86" stroke-width="1.0"/>
<line x1="60.2" y1="395.6" x2="64.2" y2="395.6" stroke="#0c4d86" stroke-width="1.1"/>
<rect x="71.2" y="377.9" width="9" height="67.5" fill="#3bb54a"/>
<line x1="75.7" y1="377.9" x2="75.7" y2="375.6" stroke="#3bb54a" stroke-width="1.0"/>
<line x1="73.7" y1="375.6" x2="77.7" y2="375.6" stroke="#3bb54a" stroke-width="1.1"/>
<rect x="93.3" y="427.1" width="9" height="18.299999999999955" fill="#c8102e"/>
<line x1="97.8" y1="427.1" x2="97.8" y2="421.2" stroke="#c8102e" stroke-width="1.0"/>
<line x1="95.8" y1="421.2" x2="99.8" y2="421.2" stroke="#c8102e" stroke-width="1.1"/>
<rect x="106.9" y="406.4" width="9" height="39.0" fill="#0c4d86"/>
<line x1="111.4" y1="406.4" x2="111.4" y2="399.4" stroke="#0c4d86" stroke-width="1.0"/>
<line x1="109.4" y1="399.4" x2="113.4" y2="399.4" stroke="#0c4d86" stroke-width="1.1"/>
<rect x="120.3" y="396.5" width="9" height="48.89999999999998" fill="#3bb54a"/>
<line x1="124.8" y1="396.5" x2="124.8" y2="390.8" stroke="#3bb54a" stroke-width="1.0"/>
<line x1="122.8" y1="390.8" x2="126.8" y2="390.8" stroke="#3bb54a" stroke-width="1.1"/>
<line x1="38.6" y1="445.4" x2="133.6" y2="445.4" stroke="#2a2a2a" stroke-width="1.5"/>
<text x="19.8" y="403.2" font-size="9.3" text-anchor="middle" fill="#222" stroke="#222" stroke-width="0.2" transform="rotate(-90 19.8 403.2)" textLength="41.4" lengthAdjust="spacingAndGlyphs">Apoptosis %</text>
<text x="55.3" y="454.6" font-size="8.3" textLength="13" lengthAdjust="spacingAndGlyphs" fill="#222">Ctrl</text>
<text x="93.9" y="454.8" font-size="8.3" textLength="34.6" lengthAdjust="spacingAndGlyphs" fill="#222">Curcumin</text>
<line x1="42.5" y1="456.6" x2="135.5" y2="456.6" stroke="#222" stroke-width="1.2"/>
<text x="77.8" y="466.0" font-size="8.3" textLength="21.5" lengthAdjust="spacingAndGlyphs" fill="#222">ARP-1</text>
<line x1="61.5" y1="370.8" x2="75.4" y2="370.8" stroke="#555" stroke-width="1.3"/>
<text x="68.5" y="370.7" font-size="7.6" text-anchor="middle" fill="#222" stroke="#222" stroke-width="0.2">*</text>
<line x1="76.3" y1="361.5" x2="122.5" y2="361.5" stroke="#555" stroke-width="1.3"/>
<text x="100.4" y="360.9" font-size="7.6" text-anchor="middle" fill="#222" stroke="#222" stroke-width="0.2">*</text>
<line x1="107.7" y1="386.2" x2="126.9" y2="386.2" stroke="#555" stroke-width="1.3"/>
<text x="117.30000000000001" y="383.3" font-size="8.0" text-anchor="middle" fill="#222">n.s.</text>
<rect x="136.5" y="365.7" width="10.3" height="5.3" fill="#c8102e"/>
<text x="149.8" y="370.84999999999997" font-size="7.9" fill="#222" stroke="#222" stroke-width="0" textLength="22.9" lengthAdjust="spacingAndGlyphs">DMSO</text>
<rect x="136.5" y="377.1" width="10.3" height="5.3" fill="#0c4d86"/>
<text x="149.8" y="382.25" font-size="7.9" fill="#222" stroke="#222" stroke-width="0" textLength="11.2" lengthAdjust="spacingAndGlyphs">Cfz</text>
<rect x="136.5" y="388.5" width="10.3" height="5.3" fill="#3bb54a"/>
<text x="149.8" y="393.65" font-size="7.9" fill="#222" stroke="#222" stroke-width="0" textLength="35.0" lengthAdjust="spacingAndGlyphs">ATRA+Cfz</text>
<line x1="229.0" y1="363.8" x2="229.0" y2="446.09999999999997" stroke="#2a2a2a" stroke-width="1.5"/>
<line x1="226.4" y1="445.4" x2="229.0" y2="445.4" stroke="#2a2a2a" stroke-width="1.1"/>
<text x="223.3" y="448.4" font-size="8.3" text-anchor="end" fill="#2a2a2a" textLength="4.2" lengthAdjust="spacingAndGlyphs">0</text>
<line x1="226.4" y1="429.21999999999997" x2="229.0" y2="429.21999999999997" stroke="#2a2a2a" stroke-width="1.1"/>
<text x="223.3" y="432.21999999999997" font-size="8.3" text-anchor="end" fill="#2a2a2a" textLength="8.4" lengthAdjust="spacingAndGlyphs">20</text>
<line x1="226.4" y1="413.03999999999996" x2="229.0" y2="413.03999999999996" stroke="#2a2a2a" stroke-width="1.1"/>
<text x="223.3" y="416.03999999999996" font-size="8.3" text-anchor="end" fill="#2a2a2a" textLength="8.4" lengthAdjust="spacingAndGlyphs">40</text>
<line x1="226.4" y1="396.85999999999996" x2="229.0" y2="396.85999999999996" stroke="#2a2a2a" stroke-width="1.1"/>
<text x="223.3" y="399.85999999999996" font-size="8.3" text-anchor="end" fill="#2a2a2a" textLength="8.4" lengthAdjust="spacingAndGlyphs">60</text>
<line x1="226.4" y1="380.67999999999995" x2="229.0" y2="380.67999999999995" stroke="#2a2a2a" stroke-width="1.1"/>
<text x="223.3" y="383.67999999999995" font-size="8.3" text-anchor="end" fill="#2a2a2a" textLength="8.4" lengthAdjust="spacingAndGlyphs">80</text>
<line x1="226.4" y1="364.5" x2="229.0" y2="364.5" stroke="#2a2a2a" stroke-width="1.1"/>
<text x="223.3" y="367.5" font-size="8.3" text-anchor="end" fill="#2a2a2a" textLength="12.6" lengthAdjust="spacingAndGlyphs">100</text>
<rect x="233.0" y="431.8" width="9" height="13.599999999999966" fill="#c8102e"/>
<line x1="237.5" y1="431.8" x2="237.5" y2="429.3" stroke="#c8102e" stroke-width="1.0"/>
<line x1="235.5" y1="429.3" x2="239.5" y2="429.3" stroke="#c8102e" stroke-width="1.1"/>
<rect x="246.2" y="411.0" width="9" height="34.39999999999998" fill="#0c4d86"/>
<line x1="250.7" y1="411.0" x2="250.7" y2="408.5" stroke="#0c4d86" stroke-width="1.0"/>
<line x1="248.7" y1="408.5" x2="252.7" y2="408.5" stroke="#0c4d86" stroke-width="1.1"/>
<rect x="259.2" y="388.9" width="9" height="56.5" fill="#3bb54a"/>
<line x1="263.7" y1="388.9" x2="263.7" y2="384.5" stroke="#3bb54a" stroke-width="1.0"/>
<line x1="261.7" y1="384.5" x2="265.7" y2="384.5" stroke="#3bb54a" stroke-width="1.1"/>
<rect x="281.2" y="433.3" width="9" height="12.099999999999966" fill="#c8102e"/>
<line x1="285.7" y1="433.3" x2="285.7" y2="430.6" stroke="#c8102e" stroke-width="1.0"/>
<line x1="283.7" y1="430.6" x2="287.7" y2="430.6" stroke="#c8102e" stroke-width="1.1"/>
<rect x="294.2" y="413.1" width="9" height="32.299999999999955" fill="#0c4d86"/>
<line x1="298.7" y1="413.1" x2="298.7" y2="411.2" stroke="#0c4d86" stroke-width="1.0"/>
<line x1="296.7" y1="411.2" x2="300.7" y2="411.2" stroke="#0c4d86" stroke-width="1.1"/>
<rect x="307.3" y="411.1" width="9" height="34.299999999999955" fill="#3bb54a"/>
<line x1="311.8" y1="411.1" x2="311.8" y2="408.3" stroke="#3bb54a" stroke-width="1.0"/>
<line x1="309.8" y1="408.3" x2="313.8" y2="408.3" stroke="#3bb54a" stroke-width="1.1"/>
<line x1="228.3" y1="445.4" x2="321.2" y2="445.4" stroke="#2a2a2a" stroke-width="1.5"/>
<text x="209.2" y="403.7" font-size="9.3" text-anchor="middle" fill="#222" stroke="#222" stroke-width="0.2" transform="rotate(-90 209.2 403.7)" textLength="41.6" lengthAdjust="spacingAndGlyphs">Apoptosis %</text>
<text x="244.0" y="455.0" font-size="8.3" textLength="13" lengthAdjust="spacingAndGlyphs" fill="#222">Ctrl</text>
<text x="281.8" y="455.2" font-size="8.3" textLength="34.4" lengthAdjust="spacingAndGlyphs" fill="#222">Curcumin</text>
<line x1="231.9" y1="457.1" x2="325" y2="457.1" stroke="#222" stroke-width="1.2"/>
<text x="265.5" y="466.4" font-size="8.3" textLength="25.6" lengthAdjust="spacingAndGlyphs" fill="#222">MM.1S</text>
<line x1="250.2" y1="380.3" x2="264" y2="380.3" stroke="#555" stroke-width="1.3"/>
<text x="256.8" y="380.2" font-size="7.6" text-anchor="middle" fill="#222" stroke="#222" stroke-width="0.2">*</text>
<line x1="266" y1="370.7" x2="312.5" y2="370.7" stroke="#555" stroke-width="1.3"/>
<text x="289" y="370.49999999999994" font-size="7.6" text-anchor="middle" fill="#222" stroke="#222" stroke-width="0.2">*</text>
<line x1="296.2" y1="401.9" x2="315.4" y2="401.9" stroke="#555" stroke-width="1.3"/>
<text x="305.79999999999995" y="399.0" font-size="8.0" text-anchor="middle" fill="#222">n.s.</text>
<rect x="324.8" y="369.0" width="10.1" height="5.4" fill="#c8102e"/>
<text x="338" y="374.95" font-size="7.9" fill="#222" stroke="#222" stroke-width="0" textLength="22.9" lengthAdjust="spacingAndGlyphs">DMSO</text>
<rect x="324.8" y="380.7" width="10.1" height="5.4" fill="#0c4d86"/>
<text x="338" y="386.65" font-size="7.9" fill="#222" stroke="#222" stroke-width="0" textLength="11.2" lengthAdjust="spacingAndGlyphs">Cfz</text>
<rect x="324.8" y="392.0" width="10.1" height="5.4" fill="#3bb54a"/>
<text x="338" y="397.95" font-size="7.9" fill="#222" stroke="#222" stroke-width="0" textLength="35.0" lengthAdjust="spacingAndGlyphs">ATRA+Cfz</text>
</svg>
</body></html>
